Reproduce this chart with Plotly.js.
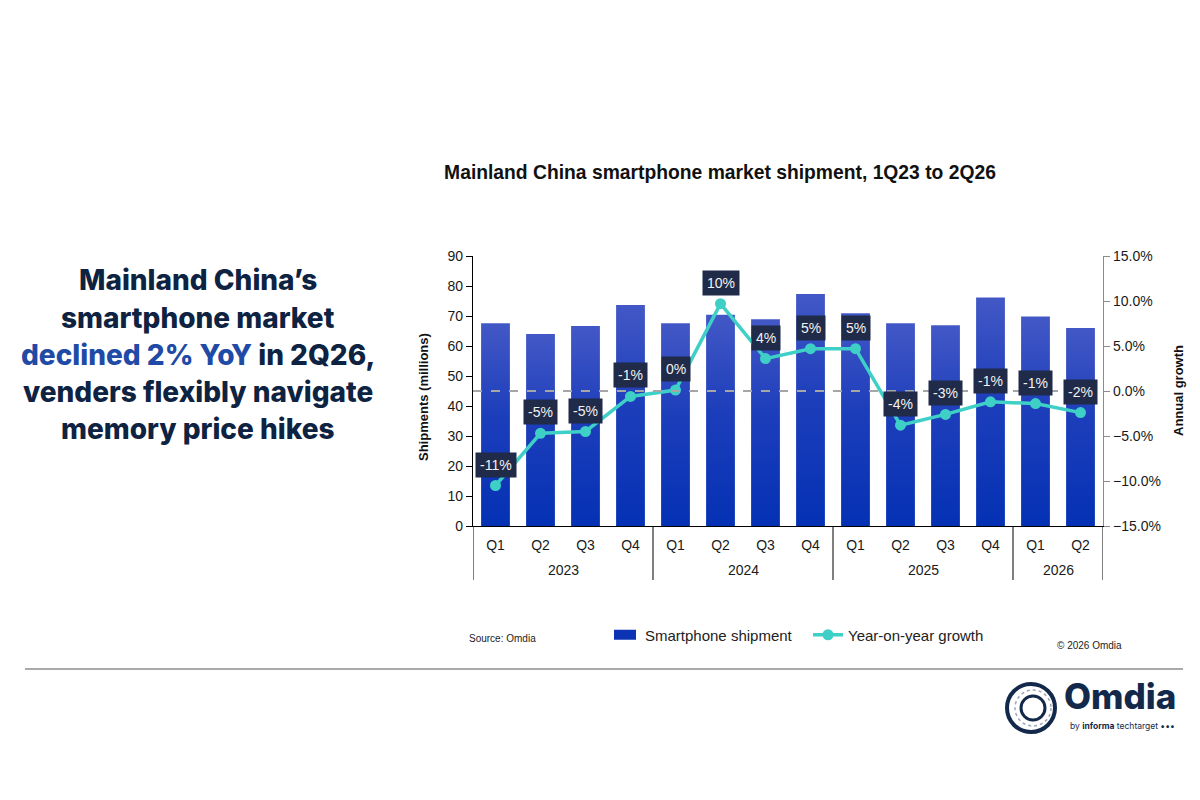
<!DOCTYPE html>
<html>
<head>
<meta charset="utf-8">
<script src="https://cdn.plot.ly/plotly-3.0.1.min.js"></script>
<style>
  html, body { margin: 0; padding: 0; background: #ffffff; }
  #chart { width: 1200px; height: 800px; }
</style>
</head>
<body>
<div id="chart"></div>
<script>
// Quarterly data, 1Q23 to 2Q26
const years = ['2023','2023','2023','2023','2024','2024','2024','2024','2025','2025','2025','2025','2026','2026'];
const quarters = ['Q1','Q2','Q3','Q4','Q1','Q2','Q3','Q4','Q1','Q2','Q3','Q4','Q1','Q2'];
// Smartphone shipments, millions of units
const shipments = [67.6, 64.0, 66.7, 73.7, 67.6, 70.4, 68.9, 77.3, 70.9, 67.6, 66.9, 76.2, 69.8, 66.0];
// Year-on-year growth, percent
const yoyGrowth = [-10.5, -4.7, -4.5, -0.6, 0.1, 9.7, 3.6, 4.7, 4.7, -3.8, -2.6, -1.2, -1.4, -2.4];

const headline = [
  'Mainland China\u2019s',
  'smartphone market',
  '<span style="color:#1f4aa6">declined 2% YoY</span> in 2Q26,',
  'venders flexibly navigate',
  'memory price hikes'
];

// Plot area in pixels: x 473..1103, y 256..526
const PL = 473, PR = 1103, PT = 256, PB = 526;
const px = v => (v - PL) / (PR - PL);
const py = v => (PB - v) / (PB - PT);

const fmtPct = v => (v < 0 ? '-' : '') + Math.round(Math.abs(v)) + '%';

// one category per quarter; the axis shows only the quarter name
const periods = quarters.map((q, i) => q + ' ' + years[i]);

// year groups: first index and count of each year
const yearGroups = [];
years.forEach((y, i) => {
  const g = yearGroups[yearGroups.length - 1];
  if (g && g.year === y) g.count++;
  else yearGroups.push({year: y, start: i, count: 1});
});

const navy = '#0e2342';
const turquoise = '#3ecfc6';
const baseFont = 'Liberation Sans, Arial, sans-serif';
const tickFont = {family: baseFont, size: 14, color: '#1a1a1a'};

const barTrace = {
  type: 'bar',
  name: 'Smartphone shipment',
  x: periods,
  y: shipments,
  marker: {color: '#0b33b4', line: {width: 0}},
  hoverinfo: 'skip'
};

const lineTrace = {
  type: 'scatter',
  mode: 'lines+markers',
  name: 'Year-on-year growth',
  x: periods,
  y: yoyGrowth,
  yaxis: 'y2',
  line: {color: turquoise, width: 3.5},
  marker: {color: turquoise, size: 11},
  hoverinfo: 'skip'
};

const annotations = [];
const shapes = [];

// Growth labels: dark boxes above each point
yoyGrowth.forEach((v, i) => {
  annotations.push({
    xref: 'x', yref: 'y2', x: i, y: v,
    text: fmtPct(v), showarrow: false,
    yshift: 21,
    bgcolor: '#1f2b48', borderpad: 4,
    font: {family: baseFont, size: 14, color: '#f2f2f2'}
  });
});

// Year row under the quarter labels, with dividers between years
yearGroups.forEach(g => {
  annotations.push({
    xref: 'x', yref: 'paper', x: g.start + (g.count - 1) / 2, y: py(570),
    xanchor: 'center', yanchor: 'middle', showarrow: false,
    text: g.year, font: tickFont
  });
  shapes.push({
    type: 'line', xref: 'x', yref: 'paper',
    x0: g.start - 0.5, x1: g.start - 0.5, y0: 0, y1: py(580),
    line: {color: '#000', width: 1}
  });
});
shapes.push({
  type: 'line', xref: 'x', yref: 'paper',
  x0: years.length - 0.5, x1: years.length - 0.5, y0: 0, y1: py(580),
  line: {color: '#000', width: 1}
});

// Headline text on the left
const headlineY = [280, 318, 355, 392, 429];
headline.forEach((h, i) => {
  annotations.push({
    xref: 'paper', yref: 'paper', x: px(198), y: py(headlineY[i]),
    xanchor: 'center', yanchor: 'middle', showarrow: false,
    text: h,
    font: {family: 'Inter, Lato, sans-serif', size: 28, weight: 800, color: navy}
  });
});

// Axis titles
annotations.push({
  xref: 'paper', yref: 'paper', x: px(423), y: py(397),
  xanchor: 'center', yanchor: 'middle', textangle: -90, showarrow: false,
  text: 'Shipments (millions)',
  font: {family: baseFont, size: 13, weight: 700, color: '#111'}
});
annotations.push({
  xref: 'paper', yref: 'paper', x: px(1178), y: py(391),
  xanchor: 'center', yanchor: 'middle', textangle: -90, showarrow: false,
  text: 'Annual growth',
  font: {family: baseFont, size: 13, weight: 700, color: '#111'}
});

// Footnotes
annotations.push({
  xref: 'paper', yref: 'paper', x: px(467), y: py(638),
  xanchor: 'left', yanchor: 'middle', showarrow: false,
  text: 'Source: Omdia',
  font: {family: 'Liberation Sans Narrow, Liberation Sans, sans-serif', size: 10, color: '#222'}
});
annotations.push({
  xref: 'paper', yref: 'paper', x: px(1124), y: py(645),
  xanchor: 'right', yanchor: 'middle', showarrow: false,
  text: '\u00a9 2026 Omdia',
  font: {family: 'Liberation Sans Narrow, Liberation Sans, sans-serif', size: 10, color: '#222'}
});

// Brand mark text
annotations.push({
  xref: 'paper', yref: 'paper', x: px(1062), y: py(696),
  xanchor: 'left', yanchor: 'middle', showarrow: false,
  text: 'Omdia',
  font: {family: 'Inter, Lato, sans-serif', size: 35, weight: 800, color: '#13294b'}
});
annotations.push({
  xref: 'paper', yref: 'paper', x: px(1068), y: py(726),
  xanchor: 'left', yanchor: 'middle', showarrow: false,
  text: 'by <b>informa</b> techtarget \u2022\u2022\u2022',
  font: {family: 'Inter, Lato, sans-serif', size: 8.5, color: '#13294b'}
});

shapes.push(
  // zero-growth reference line
  {type: 'line', xref: 'paper', yref: 'y2', x0: 0, x1: 1, y0: 0, y1: 0,
   line: {color: '#a6a6a6', width: 2, dash: 'dash'}, layer: 'above'},
  // footer rule
  {type: 'line', xref: 'paper', yref: 'paper', x0: px(25), x1: px(1183), y0: py(669), y1: py(669),
   line: {color: '#555555', width: 1}},
  // brand icon rings
  {type: 'circle', xref: 'paper', yref: 'paper', xsizemode: 'pixel', ysizemode: 'pixel',
   xanchor: px(1031), yanchor: py(708), x0: -24, x1: 24, y0: -24, y1: 24,
   line: {color: '#13294b', width: 4}},
  {type: 'circle', xref: 'paper', yref: 'paper', xsizemode: 'pixel', ysizemode: 'pixel',
   xanchor: px(1033), yanchor: py(708), x0: -12, x1: 12, y0: -12, y1: 12,
   line: {color: '#13294b', width: 3}},
  {type: 'circle', xref: 'paper', yref: 'paper', xsizemode: 'pixel', ysizemode: 'pixel',
   xanchor: px(1033), yanchor: py(708), x0: -18, x1: 18, y0: -18, y1: 18,
   line: {color: '#9aa6b8', width: 1.5, dash: 'dot'}}
);

const layout = {
  width: 1200, height: 800,
  margin: {l: PL, r: 1200 - PR, t: PT, b: 800 - PB, pad: 0},
  paper_bgcolor: '#ffffff', plot_bgcolor: '#ffffff',
  showlegend: true,
  bargap: 0.36,
  title: {
    text: 'Mainland China smartphone market shipment, 1Q23 to 2Q26',
    x: 720 / 1200, xanchor: 'center', y: 1 - 172 / 800, yanchor: 'middle',
    font: {family: baseFont, size: 19.3, weight: 700, color: '#111'}
  },
  xaxis: {
    type: 'category',
    range: [-0.5, periods.length - 0.5],
    tickvals: periods, ticktext: quarters,
    showline: true, linecolor: '#000', linewidth: 1.2,
    ticks: '', showgrid: false, zeroline: false,
    ticklabelstandoff: 6,
    tickfont: tickFont
  },
  yaxis: {
    range: [0, 90], dtick: 10, tick0: 0,
    showline: true, linecolor: '#000', linewidth: 1.2,
    ticks: 'outside', ticklen: 6, tickcolor: '#000',
    showgrid: false, zeroline: false,
    tickfont: tickFont
  },
  yaxis2: {
    overlaying: 'y', side: 'right',
    range: [-15, 15], dtick: 5, tick0: 0,
    tickformat: '.1f', ticksuffix: '%',
    showline: true, linecolor: '#8c8c8c', linewidth: 1.2,
    ticks: 'outside', ticklen: 6, tickcolor: '#8c8c8c',
    showgrid: false, zeroline: false,
    tickfont: tickFont
  },
  legend: {
    orientation: 'h', x: px(605), xanchor: 'left', y: py(635), yanchor: 'middle',
    font: {family: baseFont, size: 15, color: '#222'},
    entrywidth: 158, entrywidthmode: 'pixels',
    itemwidth: 30, bgcolor: 'rgba(0,0,0,0)'
  },
  annotations: annotations,
  shapes: shapes
};

Plotly.newPlot('chart', [barTrace, lineTrace], layout, {staticPlot: true, displayModeBar: false}).then(gd => {
  // Vertical shading on the bars: lighter blue at the top, deep blue below
  const svg = gd.querySelector('.main-svg');
  const ns = 'http://www.w3.org/2000/svg';
  let defs = svg.querySelector('defs');
  if (!defs) { defs = document.createElementNS(ns, 'defs'); svg.insertBefore(defs, svg.firstChild); }
  const grad = document.createElementNS(ns, 'linearGradient');
  grad.setAttribute('id', 'barShade');
  grad.setAttribute('x1', '0'); grad.setAttribute('y1', '0');
  grad.setAttribute('x2', '0'); grad.setAttribute('y2', '1');
  [['0', '#4358c6'], ['0.45', '#1d3ebb'], ['1', '#0431b4']].forEach(([o, c]) => {
    const s = document.createElementNS(ns, 'stop');
    s.setAttribute('offset', o); s.setAttribute('stop-color', c);
    grad.appendChild(s);
  });
  defs.appendChild(grad);
  gd.querySelectorAll('.barlayer .point path').forEach(p => { p.style.fill = 'url(#barShade)'; });

  // Wider legend swatch for the bar series
  const swatch = gd.querySelector('.legend .traces .legendpoints path');
  if (swatch) swatch.setAttribute('d', 'M11,5H-11V-5H11Z');
});
</script>
</body>
</html>
